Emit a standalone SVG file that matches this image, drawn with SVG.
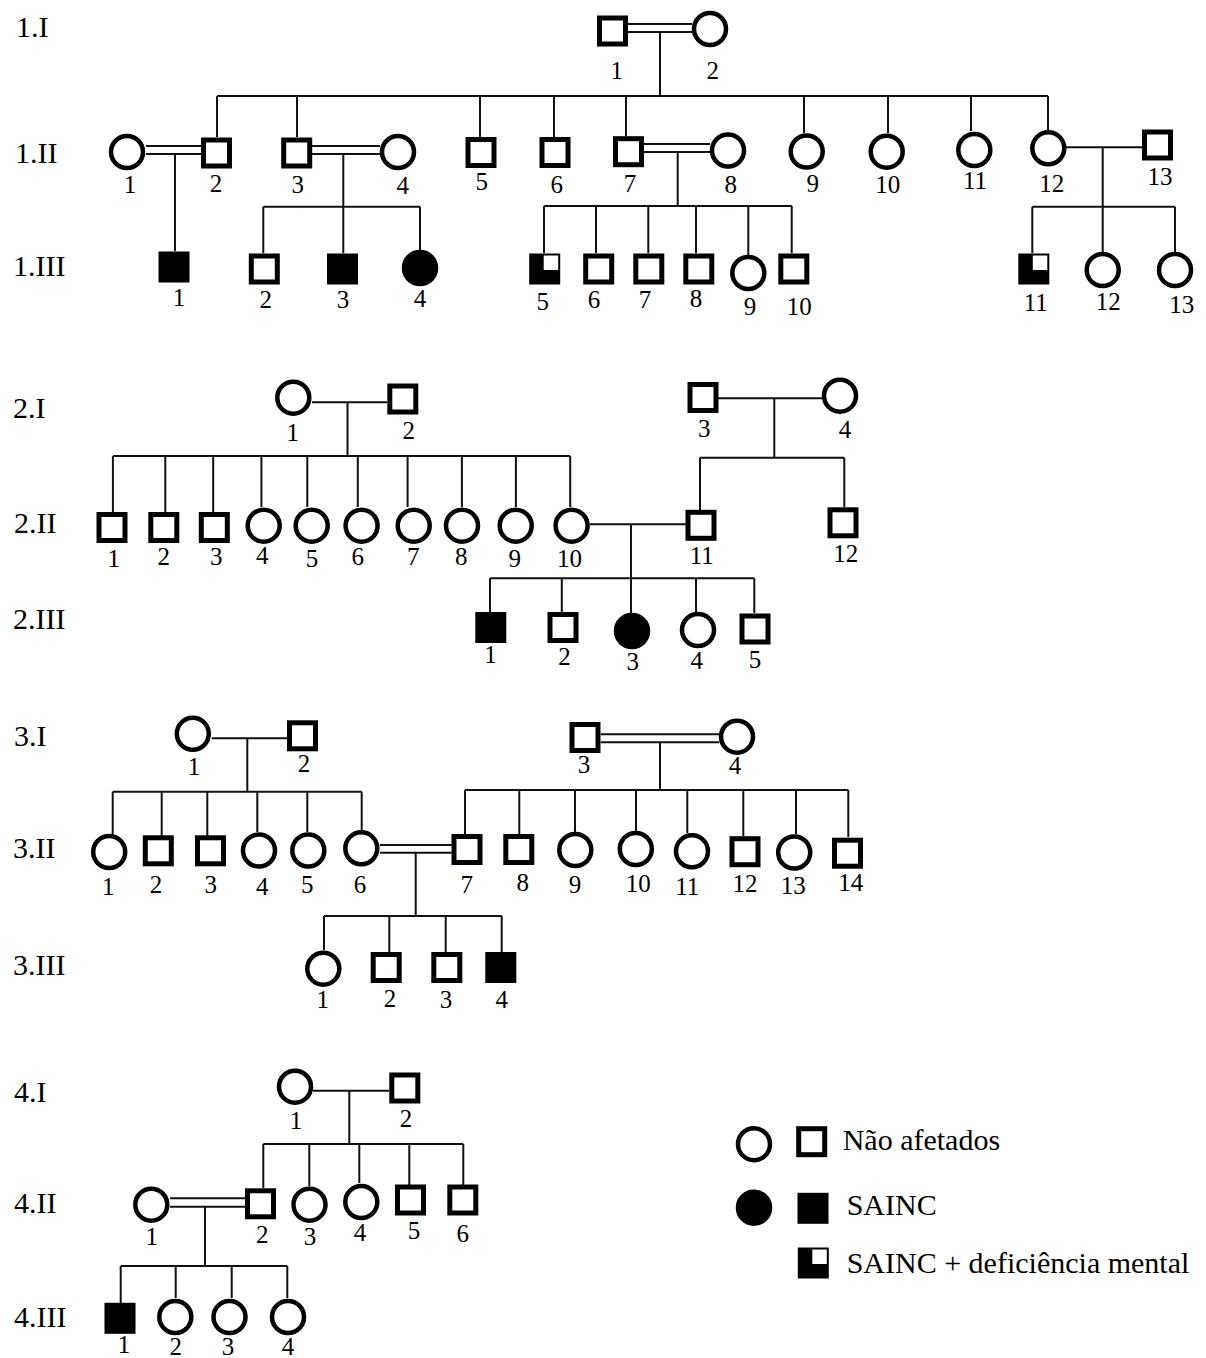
<svg xmlns="http://www.w3.org/2000/svg" width="1206" height="1358" viewBox="0 0 1206 1358">
<style>
.sq{fill:#fff;stroke:#000;stroke-width:5}
.sqf{fill:#000;stroke:#000;stroke-width:5}
.ci{fill:#fff;stroke:#000;stroke-width:4.5}
.cif{fill:#000;stroke:#000;stroke-width:4.5}
.wq{fill:#fff}
.ln{stroke:#111;stroke-width:2;fill:none}
.n{font-family:"Liberation Serif","Times New Roman",serif;font-size:25px;text-anchor:middle;fill:#000}
.g{font-family:"Liberation Serif","Times New Roman",serif;font-size:30px;fill:#000}
.lg{font-family:"Liberation Serif","Times New Roman",serif;font-size:30px;fill:#000}
</style>
<rect width="1206" height="1358" fill="#fff"/>
<g id="generation-labels">
<text class="g" x="16" y="37">1.I</text>
<text class="g" x="15" y="163">1.II</text>
<text class="g" x="13" y="276">1.III</text>
<text class="g" x="13" y="418">2.I</text>
<text class="g" x="14" y="533">2.II</text>
<text class="g" x="13" y="629">2.III</text>
<text class="g" x="14" y="746">3.I</text>
<text class="g" x="13" y="858">3.II</text>
<text class="g" x="13" y="975">3.III</text>
<text class="g" x="14" y="1102">4.I</text>
<text class="g" x="14" y="1213">4.II</text>
<text class="g" x="14" y="1327">4.III</text>
</g>
<g id="connectors" class="ln">
<!-- Family 1 -->
<path d="M628 24H692M628 32H692M660 32V96M217 96H1048"/>
<path d="M217 96V137M297 96V137M480 96V137M554 96V137M626 96V136M804 96V133M888 96V133M971 96V131M1048 96V130"/>
<path d="M146 146H201M146 154H201M175 154V251"/>
<path d="M312 146H380M312 154H380M343.3 154V253M263.3 206.7H420M263.3 206.7V253M420 206.7V250"/>
<path d="M644 144H710M644 152H710M677.7 152V206M544 206H792M544 206V253M596 206V253M648.3 206V253M696 206V253M748.3 206V255M791.7 206V253"/>
<path d="M1066 147.3H1142M1102.7 147.3V252M1032.3 206.7H1175M1032.3 206.7V253M1175 206.7V252"/>
<!-- Family 2 -->
<path d="M312 402.3H387M347.5 402.3V456M112.9 456H570.2"/>
<path d="M112.9 456V512M165.3 456V512M213.2 456V512M261.4 456V507M307.3 456V507M357.8 456V507M407.6 456V507M461.9 456V507M515.9 456V507M570.2 456V507"/>
<path d="M718 398.3H822M774.3 398.3V457.7M700 457.7H844.3M700 457.7V510M844.3 457.7V507"/>
<path d="M590 524.3H686M631 524.3V613M490 578.3H754.3M490 578.3V612M561.8 578.3V612M696 578.3V612M754.3 578.3V613"/>
<!-- Family 3 -->
<path d="M211.7 738.3H287M247.3 738.3V791.7M112.7 791.7H361.7"/>
<path d="M112.7 791.7V834M161.7 791.7V836M207.3 791.7V836M257.3 791.7V832M307.3 791.7V832M361.7 791.7V830"/>
<path d="M600.7 734.3H719.3M600.7 742.3H719.3M660 742.3V790M465 790H848.3"/>
<path d="M465 790V834M519.3 790V834M575 790V832M636 790V831M687.3 790V833M743.3 790V836M796 790V834M848.3 790V837"/>
<path d="M380 845H451.7M380 852.7H451.7M415.7 852.7V916M324 916H501.7M324 916V950M389.3 916V952M445.7 916V952M501.7 916V952"/>
<!-- Family 4 -->
<path d="M313 1090.7H389M349.3 1090.7V1144M263.3 1144H463.3"/>
<path d="M263.3 1144V1188M309.3 1144V1186M359.3 1144V1183M409.3 1144V1185M463.3 1144V1185"/>
<path d="M170 1198.3H245M170 1206.7H245M205 1206.7V1266M120.7 1266H287.3M120.7 1266V1303M175.7 1266V1298M231.7 1266V1298M287.3 1266V1298"/>
</g>
<!-- Family 1 nodes -->
<g id="f1-I-1"><rect class="sq" x="599.5" y="18" width="26" height="26"/><text class="n" x="616.7" y="79">1</text></g>
<g id="f1-I-2"><circle class="ci" cx="710" cy="29" r="16"/><text class="n" x="712.7" y="79">2</text></g>
<g id="f1-II-1"><circle class="ci" cx="127" cy="152" r="16"/><text class="n" x="130" y="193">1</text></g>
<g id="f1-II-2"><rect class="sq" x="203.5" y="140" width="26" height="26"/><text class="n" x="216" y="192">2</text></g>
<g id="f1-II-3"><rect class="sq" x="283.7" y="140" width="26" height="26"/><text class="n" x="297.7" y="193">3</text></g>
<g id="f1-II-4"><circle class="ci" cx="398" cy="152" r="16"/><text class="n" x="402.7" y="194">4</text></g>
<g id="f1-II-5"><rect class="sq" x="468" y="139.5" width="26" height="26"/><text class="n" x="481.7" y="190">5</text></g>
<g id="f1-II-6"><rect class="sq" x="542" y="139.5" width="26" height="26"/><text class="n" x="556.7" y="193">6</text></g>
<g id="f1-II-7"><rect class="sq" x="615.5" y="138.7" width="26" height="26"/><text class="n" x="630" y="191.7">7</text></g>
<g id="f1-II-8"><circle class="ci" cx="728" cy="150.5" r="16"/><text class="n" x="730.7" y="193">8</text></g>
<g id="f1-II-9"><circle class="ci" cx="806.7" cy="151.5" r="16"/><text class="n" x="812.7" y="191.7">9</text></g>
<g id="f1-II-10"><circle class="ci" cx="886.7" cy="151.7" r="16"/><text class="n" x="887.7" y="192.7">10</text></g>
<g id="f1-II-11"><circle class="ci" cx="974.3" cy="150" r="16"/><text class="n" x="975" y="189.3">11</text></g>
<g id="f1-II-12"><circle class="ci" cx="1048.3" cy="148.3" r="16"/><text class="n" x="1051.7" y="191.7">12</text></g>
<g id="f1-II-13"><rect class="sq" x="1144.5" y="132" width="26" height="26"/><text class="n" x="1160" y="185">13</text></g>
<g id="f1-III-1"><rect class="sqf" x="161" y="254" width="26" height="26"/><text class="n" x="179" y="306">1</text></g>
<g id="f1-III-2"><rect class="sq" x="251.3" y="256" width="26" height="26"/><text class="n" x="265.7" y="308">2</text></g>
<g id="f1-III-3"><rect class="sqf" x="329.5" y="256" width="26" height="26"/><text class="n" x="343" y="308">3</text></g>
<g id="f1-III-4"><circle class="cif" cx="420" cy="268" r="16"/><text class="n" x="420" y="307">4</text></g>
<g id="f1-III-5"><rect class="sqf" x="531.7" y="256" width="26" height="26"/><rect class="wq" x="543.7" y="255.5" width="14.5" height="14.5"/><text class="n" x="542.7" y="310">5</text></g>
<g id="f1-III-6"><rect class="sq" x="585.7" y="256" width="26" height="26"/><text class="n" x="594" y="308">6</text></g>
<g id="f1-III-7"><rect class="sq" x="635.8" y="256" width="26" height="26"/><text class="n" x="645" y="308">7</text></g>
<g id="f1-III-8"><rect class="sq" x="685.8" y="256" width="26" height="26"/><text class="n" x="696" y="307">8</text></g>
<g id="f1-III-9"><circle class="ci" cx="748.3" cy="273" r="16"/><text class="n" x="750" y="315">9</text></g>
<g id="f1-III-10"><rect class="sq" x="780.8" y="256" width="26" height="26"/><text class="n" x="799.3" y="315">10</text></g>
<g id="f1-III-11"><rect class="sqf" x="1020.8" y="256" width="26" height="26"/><rect class="wq" x="1032.8" y="255.5" width="14.5" height="14.5"/><text class="n" x="1035.7" y="310.7">11</text></g>
<g id="f1-III-12"><circle class="ci" cx="1102.7" cy="270" r="16"/><text class="n" x="1108.3" y="310">12</text></g>
<g id="f1-III-13"><circle class="ci" cx="1175" cy="270" r="16"/><text class="n" x="1181.7" y="313.3">13</text></g>
<!-- Family 2 nodes -->
<g id="f2-I-1"><circle class="ci" cx="293.3" cy="397.7" r="16"/><text class="n" x="292.8" y="440.7">1</text></g>
<g id="f2-I-2"><rect class="sq" x="389.8" y="386" width="26" height="26"/><text class="n" x="408.7" y="439.3">2</text></g>
<g id="f2-I-3"><rect class="sq" x="690" y="384.5" width="26" height="26"/><text class="n" x="704.3" y="436.7">3</text></g>
<g id="f2-I-4"><circle class="ci" cx="840" cy="395.7" r="16"/><text class="n" x="845" y="438.3">4</text></g>
<g id="f2-II-1"><rect class="sq" x="99" y="514.5" width="26" height="26"/><text class="n" x="113.7" y="566.7">1</text></g>
<g id="f2-II-2"><rect class="sq" x="150.8" y="514.5" width="26" height="26"/><text class="n" x="163.8" y="565">2</text></g>
<g id="f2-II-3"><rect class="sq" x="201.3" y="514.5" width="26" height="26"/><text class="n" x="216.2" y="565">3</text></g>
<g id="f2-II-4"><circle class="ci" cx="263.7" cy="525.7" r="16"/><text class="n" x="262.2" y="564">4</text></g>
<g id="f2-II-5"><circle class="ci" cx="311.7" cy="525.7" r="16"/><text class="n" x="311.9" y="566.7">5</text></g>
<g id="f2-II-6"><circle class="ci" cx="361.6" cy="525.7" r="16"/><text class="n" x="357.8" y="565">6</text></g>
<g id="f2-II-7"><circle class="ci" cx="413.7" cy="525.7" r="16"/><text class="n" x="413.3" y="565">7</text></g>
<g id="f2-II-8"><circle class="ci" cx="462" cy="525.7" r="16"/><text class="n" x="461.2" y="565">8</text></g>
<g id="f2-II-9"><circle class="ci" cx="515.7" cy="525.7" r="16"/><text class="n" x="514.7" y="566.7">9</text></g>
<g id="f2-II-10"><circle class="ci" cx="571.6" cy="525.7" r="16"/><text class="n" x="569.5" y="566.7">10</text></g>
<g id="f2-II-11"><rect class="sq" x="688" y="512.3" width="26" height="26"/><text class="n" x="701.7" y="564">11</text></g>
<g id="f2-II-12"><rect class="sq" x="830" y="509.8" width="26" height="26"/><text class="n" x="845.7" y="561.7">12</text></g>
<g id="f2-III-1"><rect class="sqf" x="477.8" y="614.5" width="26" height="26"/><text class="n" x="490.6" y="663.3">1</text></g>
<g id="f2-III-2"><rect class="sq" x="550" y="614.5" width="26" height="26"/><text class="n" x="564.5" y="665">2</text></g>
<g id="f2-III-3"><circle class="cif" cx="632" cy="631" r="16"/><text class="n" x="632.7" y="670">3</text></g>
<g id="f2-III-4"><circle class="ci" cx="698" cy="630" r="16"/><text class="n" x="696.7" y="669.3">4</text></g>
<g id="f2-III-5"><rect class="sq" x="742" y="616" width="26" height="26"/><text class="n" x="755" y="668.3">5</text></g>
<!-- Family 3 nodes -->
<g id="f3-I-1"><circle class="ci" cx="192.8" cy="733.8" r="16"/><text class="n" x="194" y="775">1</text></g>
<g id="f3-I-2"><rect class="sq" x="289.5" y="722.8" width="26" height="26"/><text class="n" x="304" y="771.7">2</text></g>
<g id="f3-I-3"><rect class="sq" x="572" y="724.5" width="26" height="26"/><text class="n" x="584" y="772.7">3</text></g>
<g id="f3-I-4"><circle class="ci" cx="737" cy="736.7" r="16"/><text class="n" x="735" y="774">4</text></g>
<g id="f3-II-1"><circle class="ci" cx="109.2" cy="852" r="16"/><text class="n" x="108.3" y="895">1</text></g>
<g id="f3-II-2"><rect class="sq" x="145.3" y="837.8" width="26" height="26"/><text class="n" x="156" y="893.3">2</text></g>
<g id="f3-II-3"><rect class="sq" x="197.5" y="837.8" width="26" height="26"/><text class="n" x="210.7" y="893.3">3</text></g>
<g id="f3-II-4"><circle class="ci" cx="259" cy="850.5" r="16"/><text class="n" x="262.3" y="895">4</text></g>
<g id="f3-II-5"><circle class="ci" cx="308.3" cy="850.5" r="16"/><text class="n" x="307.3" y="893.3">5</text></g>
<g id="f3-II-6"><circle class="ci" cx="361.3" cy="848.3" r="16"/><text class="n" x="360" y="893.3">6</text></g>
<g id="f3-II-7"><rect class="sq" x="454" y="836.5" width="26" height="26"/><text class="n" x="466.7" y="892.7">7</text></g>
<g id="f3-II-8"><rect class="sq" x="505.8" y="836.5" width="26" height="26"/><text class="n" x="522.7" y="890.7">8</text></g>
<g id="f3-II-9"><circle class="ci" cx="575.3" cy="850" r="16"/><text class="n" x="575" y="893.3">9</text></g>
<g id="f3-II-10"><circle class="ci" cx="635.8" cy="849" r="16"/><text class="n" x="638.3" y="891.7">10</text></g>
<g id="f3-II-11"><circle class="ci" cx="692" cy="851.3" r="16"/><text class="n" x="687.3" y="895">11</text></g>
<g id="f3-II-12"><rect class="sq" x="732" y="838.7" width="26" height="26"/><text class="n" x="745" y="891.7">12</text></g>
<g id="f3-II-13"><circle class="ci" cx="794.2" cy="852.5" r="16"/><text class="n" x="793.3" y="894">13</text></g>
<g id="f3-II-14"><rect class="sq" x="834.5" y="840.2" width="26" height="26"/><text class="n" x="850.7" y="890.7">14</text></g>
<g id="f3-III-1"><circle class="ci" cx="323.3" cy="968.7" r="16"/><text class="n" x="322.7" y="1008.3">1</text></g>
<g id="f3-III-2"><rect class="sq" x="373.2" y="954.5" width="26" height="26"/><text class="n" x="390" y="1006.7">2</text></g>
<g id="f3-III-3"><rect class="sq" x="433.8" y="954.5" width="26" height="26"/><text class="n" x="446" y="1008.3">3</text></g>
<g id="f3-III-4"><rect class="sqf" x="487.8" y="954.5" width="26" height="26"/><text class="n" x="501.7" y="1008.3">4</text></g>
<!-- Family 4 nodes -->
<g id="f4-I-1"><circle class="ci" cx="295" cy="1086.7" r="16"/><text class="n" x="296" y="1129">1</text></g>
<g id="f4-I-2"><rect class="sq" x="391.8" y="1075" width="26" height="26"/><text class="n" x="406" y="1126.7">2</text></g>
<g id="f4-II-1"><circle class="ci" cx="151.3" cy="1204.7" r="16"/><text class="n" x="151.7" y="1245">1</text></g>
<g id="f4-II-2"><rect class="sq" x="247.5" y="1190.8" width="26" height="26"/><text class="n" x="262.3" y="1243.3">2</text></g>
<g id="f4-II-3"><circle class="ci" cx="309.5" cy="1204.7" r="16"/><text class="n" x="310" y="1245">3</text></g>
<g id="f4-II-4"><circle class="ci" cx="361.3" cy="1202" r="16"/><text class="n" x="360" y="1240.7">4</text></g>
<g id="f4-II-5"><rect class="sq" x="397.5" y="1187" width="26" height="26"/><text class="n" x="414" y="1239.3">5</text></g>
<g id="f4-II-6"><rect class="sq" x="449.8" y="1187" width="26" height="26"/><text class="n" x="462.7" y="1241.7">6</text></g>
<g id="f4-III-1"><rect class="sqf" x="107" y="1305.3" width="26" height="26"/><text class="n" x="124" y="1353.3">1</text></g>
<g id="f4-III-2"><circle class="ci" cx="175.3" cy="1317" r="16"/><text class="n" x="175.7" y="1355">2</text></g>
<g id="f4-III-3"><circle class="ci" cx="229.5" cy="1317" r="16"/><text class="n" x="228" y="1355">3</text></g>
<g id="f4-III-4"><circle class="ci" cx="288" cy="1317" r="16"/><text class="n" x="288" y="1355">4</text></g>
<!-- Legend -->
<g id="legend">
<circle class="ci" cx="754" cy="1144.2" r="16"/>
<rect class="sq" x="798.7" y="1128.7" width="26" height="26"/>
<text class="lg" x="842.7" y="1150">Não afetados</text>
<circle class="cif" cx="754" cy="1207.7" r="16"/>
<rect class="sqf" x="800" y="1195.3" width="26" height="26"/>
<text class="lg" x="846.7" y="1215">SAINC</text>
<rect class="sqf" x="800.3" y="1250" width="26" height="26"/>
<rect class="wq" x="812.3" y="1249.5" width="14.5" height="14.5"/>
<text class="lg" x="846.7" y="1273.3">SAINC + deficiência mental</text>
</g>
</svg>
